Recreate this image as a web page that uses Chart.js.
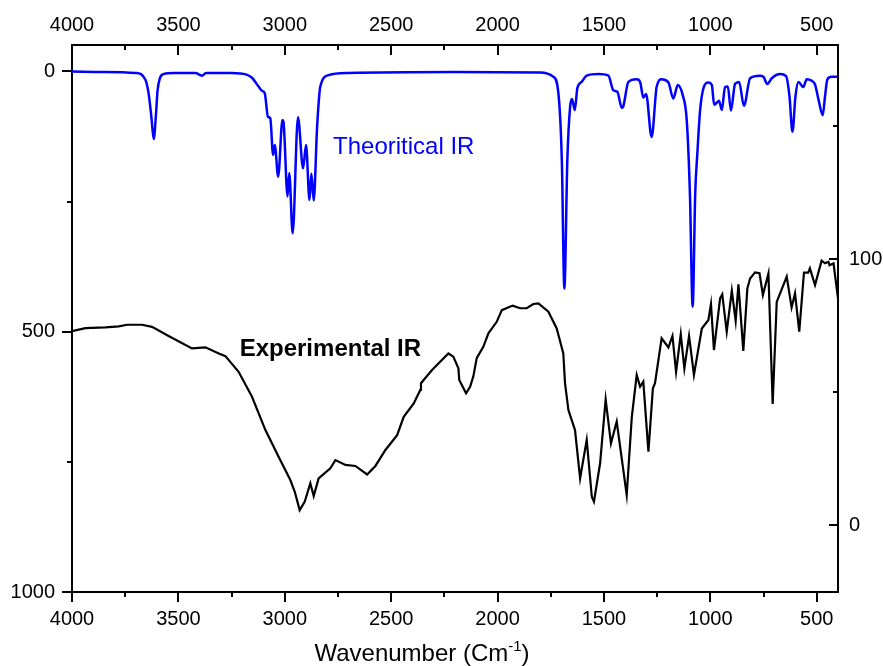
<!DOCTYPE html>
<html>
<head>
<meta charset="utf-8">
<script src="https://cdn.jsdelivr.net/npm/chart.js@4.4.1/dist/chart.umd.min.js"></script>
<style>
  html, body { margin: 0; padding: 0; background: #fff; }
</style>
</head>
<body>
<canvas id="irChart" width="883" height="666"></canvas>
<script>
// Experimental IR (right axis, transmittance)
const expWavenumber = [4000, 3937, 3843, 3780, 3741, 3671, 3624, 3546, 3436, 3373, 3310, 3279, 3217, 3154, 3091, 3029,
  2974, 2953, 2930, 2906, 2880, 2864, 2841, 2786, 2762, 2715, 2668, 2613, 2574, 2527, 2472, 2441, 2394, 2363, 2360,
  2308, 2231, 2208, 2184, 2180, 2148, 2129, 2114, 2098, 2067, 2043, 2004, 1980, 1929, 1894, 1863, 1832, 1808, 1761,
  1722, 1691, 1683, 1667, 1636, 1612, 1581, 1557, 1547, 1518, 1492, 1467, 1440, 1393, 1369, 1346, 1330, 1315, 1291,
  1270, 1260, 1229, 1197, 1178, 1161, 1139, 1122, 1100, 1077, 1040, 1009, 997, 983, 954, 944, 923, 899, 881, 868,
  845, 826, 813, 790, 769, 753, 727, 707, 688, 641, 618, 602, 582, 560, 540, 532, 508, 477, 461, 445, 440, 421, 400];
const expTransmittance = [72.9, 74.0, 74.3, 74.7, 75.3, 75.3, 74.5, 71.1, 66.4, 66.8, 64.5, 63.5, 57.6, 48.2, 35.7, 25.7,
  16.9, 12.5, 5.6, 8.8, 15.7, 10.9, 17.5, 21.3, 24.4, 22.6, 22.2, 19.0, 22.2, 28.2, 33.8, 40.7, 45.7, 50.8, 53.3,
  58.3, 64.5, 63.3, 58.9, 54.5, 49.5, 52.0, 55.8, 62.7, 67.0, 72.1, 76.4, 80.8, 82.5, 81.5, 81.5, 83.1, 83.3, 80.2,
  73.9, 64.5, 53.3, 43.2, 35.7, 17.5, 32.0, 10.6, 8.8, 23.2, 47.2, 30.7, 38.9, 11.3, 40.7, 56.4, 52.0, 53.9, 27.6,
  51.4, 53.3, 70.2, 66.8, 71.1, 57.6, 71.8, 58.9, 71.1, 56.4, 73.9, 77.1, 83.1, 65.8, 85.2, 86.7, 72.7, 88.1, 76.8, 90.5,
  65.5, 89.0, 92.7, 95.0, 94.7, 86.5, 94.6, 45.5, 83.9, 93.4, 81.8, 87.1, 72.7, 94.9, 94.9, 96.5, 90.2, 99.4, 98.4, 99.0, 97.7, 98.4, 85.2];

// Theoretical IR (left axis, intensity)
const theoWavenumber = [4000, 3850, 3700, 3655, 3640, 3627, 3616, 3605, 3598, 3587, 3570, 3520, 3459, 3420, 3389, 3370,
  3250, 3180, 3154, 3123, 3107, 3094, 3079, 3068, 3055, 3047, 3031, 3011, 3006, 2987, 2979, 2963, 2938, 2914, 2900,
  2884, 2875, 2864, 2848, 2833, 2794, 2700, 2200, 1800, 1738, 1714, 1698, 1686, 1672, 1659, 1650, 1637, 1625, 1605,
  1581, 1526, 1479, 1456, 1437, 1416, 1410, 1385, 1346, 1330, 1315, 1302, 1276, 1252, 1229, 1197, 1174, 1153, 1130,
  1111, 1096, 1083, 1071, 1061, 1048, 1030, 1009, 993, 982, 970, 959, 946, 931, 918, 903, 884, 865, 842, 813, 767,
  751, 732, 711, 672, 644, 628, 614, 600, 586, 563, 547, 523, 508, 491, 472, 461, 450, 430, 400];
const theoIntensity = [0, 1, 3, 16, 42, 87, 130, 80, 37, 13, 5, 3, 3, 3, 8, 3,
  3, 6, 12, 29, 37, 42, 87, 90, 160, 141, 202, 93, 97, 240, 195, 311, 88, 186, 141,
  247, 196, 248, 106, 29, 7, 3, 1, 2, 10, 42, 170, 417, 170, 68, 53, 74, 32, 20,
  8, 5, 8, 36, 39, 70, 68, 20, 15, 20, 50, 43, 126, 29, 15, 21, 52, 26, 45,
  93, 234, 452, 234, 157, 74, 29, 21, 26, 64, 60, 56, 74, 30, 29, 75, 24, 20, 66, 13, 8,
  10, 24, 13, 5, 9, 48, 116, 48, 20, 30, 15, 18, 25, 55, 84, 48, 15, 10, 10];

// tick positions
const xMajorTicks = [4000, 3500, 3000, 2500, 2000, 1500, 1000, 500];
const xMinorTicks = [3750, 3250, 2750, 2250, 1750, 1250, 750];
const leftMajorTicks = [0, 500, 1000];
const leftMinorTicks = [250, 750];
const rightMajorTicks = [0, 100];
const rightMinorTicks = [50, 150];

const FONT = "'Liberation Sans', Arial, sans-serif";

// ticks (in/out, major/minor), curve labels and the axis title with superscript
const irDecor = {
  id: 'irDecor',
  afterDraw(chart) {
    const { ctx, scales } = chart;
    const ca = chart.chartArea;
    ctx.save();
    ctx.strokeStyle = '#000';
    ctx.lineWidth = 2;
    const line = (x1, y1, x2, y2) => { ctx.beginPath(); ctx.moveTo(x1, y1); ctx.lineTo(x2, y2); ctx.stroke(); };

    // bottom: outward, top: inward
    xMajorTicks.forEach(v => {
      const px = Math.round(scales.x.getPixelForValue(v));
      line(px, ca.bottom, px, ca.bottom + 10);
      line(px, ca.top, px, ca.top + 10);
    });
    xMinorTicks.forEach(v => {
      const px = Math.round(scales.x.getPixelForValue(v));
      line(px, ca.bottom, px, ca.bottom + 5);
      line(px, ca.top, px, ca.top + 5);
    });
    // left: outward
    leftMajorTicks.forEach(v => { const py = Math.round(scales.y.getPixelForValue(v)); line(ca.left - 10, py, ca.left, py); });
    leftMinorTicks.forEach(v => { const py = Math.round(scales.y.getPixelForValue(v)); line(ca.left - 5, py, ca.left, py); });
    // right: inward
    rightMajorTicks.forEach(v => { const py = Math.round(scales.y2.getPixelForValue(v)); line(ca.right - 9, py, ca.right, py); });
    rightMinorTicks.forEach(v => { const py = Math.round(scales.y2.getPixelForValue(v)); line(ca.right - 5, py, ca.right, py); });

    // curve labels
    ctx.textBaseline = 'alphabetic';
    ctx.textAlign = 'left';
    ctx.fillStyle = '#0000ff';
    ctx.font = '24px ' + FONT;
    ctx.fillText('Theoritical IR', scales.x.getPixelForValue(2773), scales.y.getPixelForValue(158));
    ctx.fillStyle = '#000';
    ctx.font = 'bold 24px ' + FONT;
    ctx.fillText('Experimental IR', scales.x.getPixelForValue(3212), scales.y.getPixelForValue(546));

    // axis title
    const main = 'Wavenumber (Cm', sup = '-1', close = ')';
    ctx.font = '24px ' + FONT;
    const w1 = ctx.measureText(main).width, w3 = ctx.measureText(close).width;
    ctx.font = '15px ' + FONT;
    const w2 = ctx.measureText(sup).width;
    let x = 422 - (w1 + w2 + w3) / 2;
    const base = 661;
    ctx.font = '24px ' + FONT;
    ctx.fillText(main, x, base);
    x += w1;
    ctx.font = '15px ' + FONT;
    ctx.fillText(sup, x, base - 10);
    x += w2;
    ctx.font = '24px ' + FONT;
    ctx.fillText(close, x, base);
    ctx.restore();
  }
};

function pts(xs, ys) {
  return xs.map((x, i) => ({ x: x, y: ys[i] }));
}

const tickFont = { family: FONT, size: 20 };
const noGrid = { display: false, drawTicks: false };
const axisBorder = { display: true, color: '#000', width: 2 };

new Chart(document.getElementById('irChart'), {
  type: 'line',
  data: {
    datasets: [
      {
        label: 'Theoritical IR',
        data: pts(theoWavenumber, theoIntensity),
        xAxisID: 'x',
        yAxisID: 'y',
        borderColor: '#0000ff',
        borderWidth: 2.5,
        pointRadius: 0,
        cubicInterpolationMode: 'monotone'
      },
      {
        label: 'Experimental IR',
        data: pts(expWavenumber, expTransmittance),
        xAxisID: 'x',
        yAxisID: 'y2',
        borderColor: '#000',
        borderWidth: 2.2,
        pointRadius: 0,
        tension: 0
      }
    ]
  },
  options: {
    responsive: false,
    animation: false,
    events: [],
    layout: { padding: 0 },
    plugins: { legend: { display: false }, tooltip: { enabled: false } },
    scales: {
      x: {
        type: 'linear', position: 'bottom', min: 400, max: 4000, reverse: true,
        grid: noGrid, border: axisBorder,
        ticks: { color: '#000', font: tickFont, padding: 15, maxRotation: 0, autoSkip: false, callback: v => String(v) },
        afterBuildTicks: s => { s.ticks = xMajorTicks.map(v => ({ value: v })); },
        afterFit: s => { s.height = 74; }
      },
      x2: {
        type: 'linear', position: 'top', min: 400, max: 4000, reverse: true,
        grid: noGrid, border: axisBorder,
        ticks: { color: '#000', font: tickFont, padding: 8, maxRotation: 0, autoSkip: false, callback: v => String(v) },
        afterBuildTicks: s => { s.ticks = xMajorTicks.map(v => ({ value: v })); },
        afterFit: s => { s.height = 45; }
      },
      y: {
        type: 'linear', position: 'left', min: -50.9, max: 1000, reverse: true,
        grid: noGrid, border: axisBorder,
        ticks: { color: '#000', font: tickFont, padding: 17, callback: v => String(v) },
        afterBuildTicks: s => { s.ticks = leftMajorTicks.map(v => ({ value: v })); },
        afterFit: s => { s.width = 72; }
      },
      y2: {
        type: 'linear', position: 'right', min: -25.2, max: 180.5,
        grid: noGrid, border: axisBorder,
        ticks: { color: '#000', font: tickFont, padding: 11, callback: v => String(v) },
        afterBuildTicks: s => { s.ticks = rightMajorTicks.map(v => ({ value: v })); },
        afterFit: s => { s.width = 45; }
      }
    }
  },
  plugins: [irDecor]
});
</script>
</body>
</html>
